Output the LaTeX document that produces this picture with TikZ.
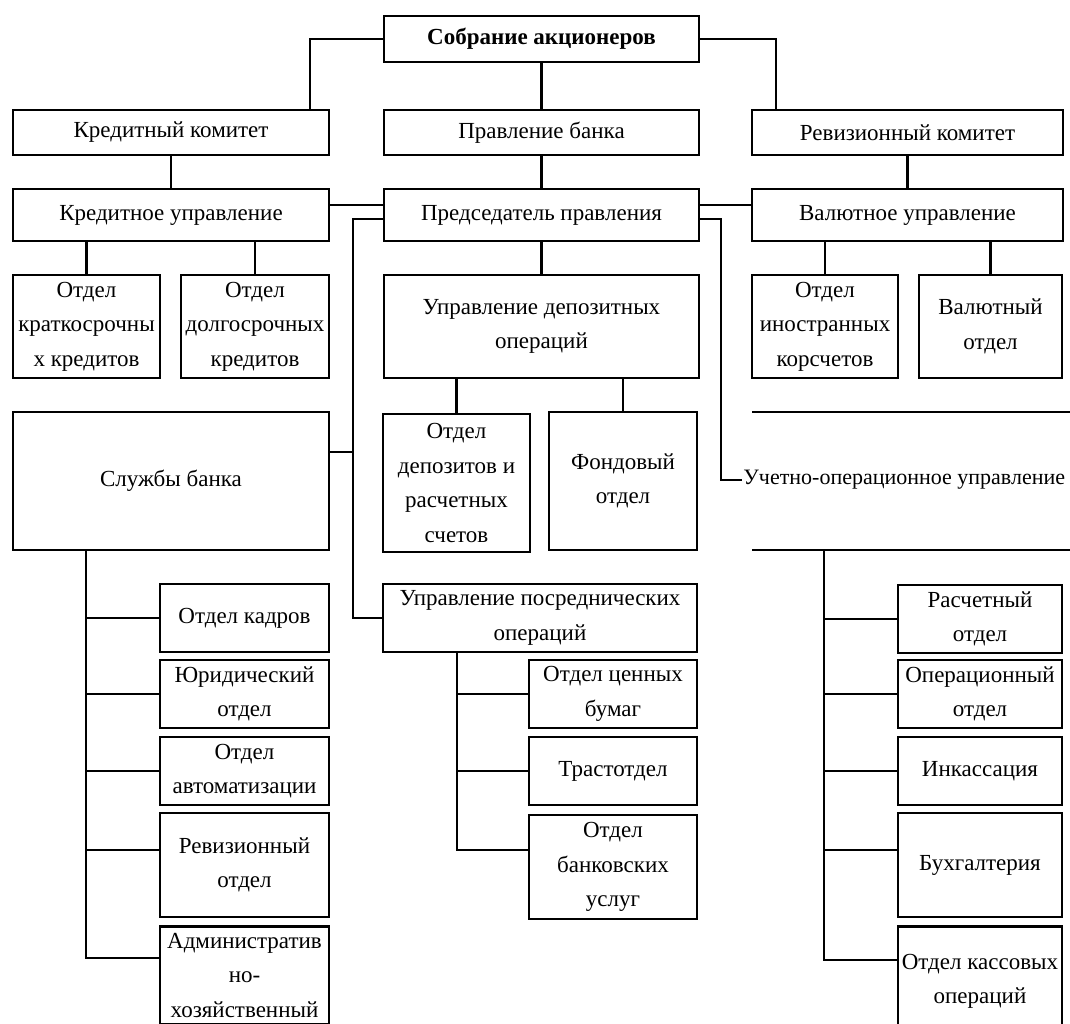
\documentclass[tikz,border=0pt]{standalone}
\usepackage{fontspec}
\setmainfont{Liberation Serif}

\begin{document}
\begin{tikzpicture}[
    x=1pt, y=-1pt,
    box/.style={draw, line width=2.8pt, inner sep=0pt, align=center, font=\fontsize{23}{34.5}\selectfont},
    boxsize/.style 2 args={minimum width=#1, minimum height=#2},
    link/.style={line width=2.2pt}
]
    \clip (0,0) rectangle (1070,1023);
    % верхние уровни
    \node[box, boxsize={315}{46}, font=\fontsize{23}{34.5}\selectfont\bfseries] (sobr) at (541.5,39) {Собрание акционеров};
    \node[box, boxsize={316}{45}] (kredkom) at (171,132.5) {Кредитный комитет};
    \node[box, boxsize={315}{45}] (pravl) at (541.5,132.5) {Правление банка};
    \node[box, boxsize={311}{45}] (revkom) at (907.5,132.5) {Ревизионный комитет};
    \node[box, boxsize={316}{52}] (kredupr) at (171,215) {Кредитное управление};
    \node[box, boxsize={315}{52}] (pred) at (541.5,215) {Председатель правления};
    \node[box, boxsize={311}{52}] (valupr) at (907.5,215) {Валютное управление};
    % отделы третьего ряда
    \node[box, boxsize={147}{103}] (kratk) at (86.5,326.5) {Отдел\\краткосрочны\\х кредитов};
    \node[box, boxsize={148}{103}] (dolg) at (255,326.5) {Отдел\\долгосрочных\\кредитов};
    \node[box, boxsize={315}{103}] (depupr) at (541.5,326.5) {Управление депозитных\\операций};
    \node[box, boxsize={146}{103}] (inostr) at (825,326.5) {Отдел\\иностранных\\корсчетов};
    \node[box, boxsize={143}{103}] (valotd) at (990.5,326.5) {Валютный\\отдел};
    \node[box, boxsize={316}{138}] (sluzhby) at (171,481) {Службы банка};
    \node[box, boxsize={147}{138}] (depotd) at (456.5,483) {Отдел\\депозитов и\\расчетных\\счетов};
    \node[box, boxsize={148}{138}] (fond) at (623,481) {Фондовый\\отдел};
    \node[box, draw=none, anchor=west, font=\fontsize{22}{34}\selectfont] (uchet) at (742,480) {Учетно-операционное управление};
    \node[box, boxsize={314}{68}] (posr) at (540,618) {Управление посреднических\\операций};
    % службы банка
    \node[box, boxsize={169}{68}] (kadry) at (244.5,618) {Отдел кадров};
    \node[box, boxsize={169}{68}] (yurid) at (244.5,694) {Юридический\\отдел};
    \node[box, boxsize={169}{68}] (avtom) at (244.5,771) {Отдел\\автоматизации};
    \node[box, boxsize={169}{104}] (revotd) at (244.5,865) {Ревизионный\\отдел};
    \node[box, boxsize={169}{98}, anchor=north] (admin) at (244.5,925) {Административ\\но-\\хозяйственный};
    % посреднические операции
    \node[box, boxsize={168}{68}] (cennye) at (613,694) {Отдел ценных\\бумаг};
    \node[box, boxsize={168}{68}] (trast) at (613,771) {Трастотдел};
    \node[box, boxsize={168}{104}] (bankusl) at (613,867) {Отдел\\банковских\\услуг};
    % учетно-операционное управление
    \node[box, boxsize={164}{68}] (raschet) at (980,619) {Расчетный\\отдел};
    \node[box, boxsize={164}{68}] (operac) at (980,694) {Операционный\\отдел};
    \node[box, boxsize={164}{68}] (inkas) at (980,771) {Инкассация};
    \node[box, boxsize={164}{104}] (buh) at (980,865) {Бухгалтерия};
    \node[box, boxsize={164}{110}, anchor=north] (kass) at (980,925) {Отдел кассовых\\операций};

    \coordinate (lkink) at (310,110);
    \coordinate (rkink) at (776,110);
    \coordinate (ltrunk) at (353,219);
    \coordinate (rtrunk) at (721,219);
    \coordinate (lbus) at (86,958);
    \coordinate (mbus) at (457,850);
    \coordinate (rbus) at (824,960);
    \coordinate (utl) at (752,412);
    \coordinate (utr) at (1075,412);
    \coordinate (ubl) at (752,550);
    \coordinate (ubr) at (1075,550);

    % связи
    \draw[link] (sobr.west) -| (lkink);
    \draw[link] (sobr.east) -| (rkink);
    \draw[link] (sobr) -- (pravl);
    \draw[link] (pravl) -- (pred);
    \draw[link] (pred) -- (depupr);
    \draw[link] (kredkom) -- (kredupr);
    \draw[link] (revkom) -- (valupr);
    \draw[link] ([yshift=10]kredupr.east) -- ([yshift=10]pred.west);
    \draw[link] ([yshift=10]pred.east) -- ([yshift=10]valupr.west);
    \foreach \d in {kratk,dolg} \draw[link] (\d.north) -- (\d.north |- kredupr.south);
    \foreach \d in {inostr,valotd} \draw[link] (\d.north) -- (\d.north |- valupr.south);
    \foreach \d in {depotd,fond} \draw[link] (\d.north) -- (\d.north |- depupr.south);
    \draw[link] ([yshift=-4]pred.west) -- (ltrunk) |- (posr.west);
    \draw[link] ([yshift=29]sluzhby.east) -- ([yshift=29]sluzhby.east -| ltrunk);
    \draw[link] ([yshift=-4]pred.east) -- (rtrunk) |- (uchet.west);
    \draw[box] (utl) -- (utr);
    \draw[box] (ubl) -- (ubr);
    % шины отделов
    \draw[link] (sluzhby.south -| lbus) -- (lbus) -- (lbus -| admin.west);
    \foreach \d in {kadry,yurid,avtom} \draw[link] (\d.west) -- (\d.west -| lbus);
    \draw[link] ([yshift=15]revotd.west) -- ([yshift=15]revotd.west -| lbus);
    \draw[link] (posr.south -| mbus) -- (mbus) -- (mbus -| bankusl.west);
    \foreach \d in {cennye,trast} \draw[link] (\d.west) -- (\d.west -| mbus);
    \draw[link] (ubl -| rbus) -- (rbus) -- (rbus -| kass.west);
    \foreach \d in {raschet,operac,inkas} \draw[link] (\d.west) -- (\d.west -| rbus);
    \draw[link] ([yshift=15]buh.west) -- ([yshift=15]buh.west -| rbus);
\end{tikzpicture}
\end{document}
